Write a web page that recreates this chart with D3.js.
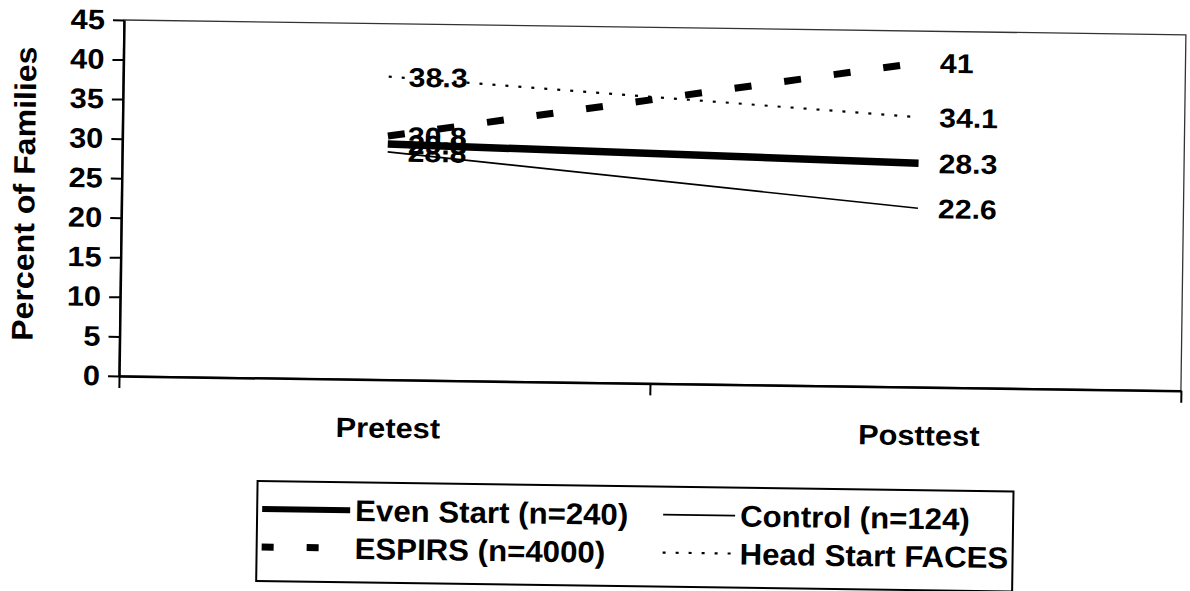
<!DOCTYPE html>
<html>
  <head>
    <meta charset="utf-8">
    <title>Percent of Families</title>
    <script src="https://d3js.org/d3.v7.min.js"></script>
    <style>
      body { margin: 0; background: #fff; }
      svg text { font-family: "Liberation Sans", Arial, sans-serif; font-weight: bold; fill: #000; }
    </style>
  </head>
  <body>
    <svg id="chart" width="1190" height="591"></svg>
    <script>
      // values
      var categories = ["Pretest", "Posttest"];
      var evenStart = [29.8, 28.3];
      var control = [28.8, 22.6];
      var espirs = [30.8, 41];
      var headStart = [38.3, 34.1];
      var yTicks = [0, 5, 10, 15, 20, 25, 30, 35, 40, 45];
      var seriesNames = ["Even Start (n=240)", "Control (n=124)", "ESPIRS (n=4000)", "Head Start FACES"];

      // line styles, in the same order as seriesNames
      var styles = [
        { width: 7.5, dash: null },
        { width: 1.6, dash: null },
        { width: 7, dash: "17,33" },
        { width: 2.2, dash: "3,10" }
      ];
      var seriesValues = [evenStart, control, espirs, headStart];

      // plot box (before the scan tilt)
      var x0 = 124, x1 = 1186, y0 = 20, y1 = 376;
      var tilt = 0.8;

      var svg = d3.select("#chart");
      var g = svg.append("g")
        .attr("transform", "rotate(" + tilt + " " + x0 + " " + y0 + ")");

      var y = d3.scaleLinear().domain([0, 45]).range([y1, y0]);
      var xBand = d3.scaleBand().domain(categories).range([x0, x1]);
      var xEdge = d3.scaleLinear().domain([0, categories.length]).range([x0, x1]);
      function xc(c) { return xBand(c) + xBand.bandwidth() / 2; }

      // widen text a bit, the scanned font is broader than Arial
      function stretch(sel, k) {
        sel.each(function() {
          var w = this.getComputedTextLength();
          d3.select(this)
            .attr("textLength", w * k)
            .attr("lengthAdjust", "spacingAndGlyphs");
        });
      }

      // plot area border
      g.append("rect")
        .attr("x", x0).attr("y", y0)
        .attr("width", x1 - x0).attr("height", y1 - y0)
        .attr("fill", "none")
        .attr("stroke", "#333")
        .attr("stroke-width", 1.3);

      // y axis
      var yAxis = g.append("g")
        .attr("transform", "translate(" + x0 + ",0)")
        .call(d3.axisLeft(y).tickValues(yTicks).tickSize(11).tickSizeOuter(0).tickPadding(8));
      yAxis.select(".domain").attr("stroke", "#000").attr("stroke-width", 2.5);
      yAxis.selectAll(".tick line").attr("stroke", "#000").attr("stroke-width", 2);
      yAxis.selectAll(".tick text").style("font-size", "28px").call(stretch, 1.1);

      // x axis, ticks between categories
      var xAxis = g.append("g")
        .attr("transform", "translate(0," + y1 + ")")
        .call(d3.axisBottom(xEdge).tickValues(d3.range(categories.length + 1)).tickSize(12).tickSizeOuter(0).tickFormat(""));
      xAxis.select(".domain").attr("stroke", "#000").attr("stroke-width", 2.5);
      xAxis.selectAll(".tick line").attr("stroke", "#000").attr("stroke-width", 2);

      g.selectAll(".cat")
        .data(categories)
        .enter().append("text")
          .attr("class", "cat")
          .attr("x", function(d) { return xc(d) + 4; })
          .attr("y", 434)
          .attr("text-anchor", "middle")
          .style("font-size", "28px")
          .text(function(d) { return d; })
          .call(stretch, 1.1);

      // y title
      g.append("text")
        .attr("transform", "translate(37,195) rotate(-90)")
        .attr("text-anchor", "middle")
        .style("font-size", "30px")
        .text("Percent of Families")
        .call(stretch, 1.07);

      // lines, drawn back to front
      var line = d3.line()
        .x(function(d, i) { return xc(categories[i]); })
        .y(function(d) { return y(d); });
      [3, 1, 2, 0].forEach(function(k) {
        g.append("path")
          .datum(seriesValues[k])
          .attr("d", line)
          .attr("fill", "none")
          .attr("stroke", "#000")
          .attr("stroke-width", styles[k].width)
          .attr("stroke-dasharray", styles[k].dash);
      });

      // data labels
      seriesValues.forEach(function(vals) {
        g.selectAll(null)
          .data(vals)
          .enter().append("text")
            .attr("x", function(d, i) { return xc(categories[i]) + 20; })
            .attr("y", function(d) { return y(d); })
            .attr("dy", "0.36em")
            .style("font-size", "27px")
            .text(function(d) { return d; })
            .call(stretch, 1.12);
      });

      // legend
      var lx = 264, ly = 479, lw = 756, lh = 100;
      var legend = g.append("g");
      legend.append("rect")
        .attr("x", lx).attr("y", ly)
        .attr("width", lw).attr("height", lh)
        .attr("fill", "#fff")
        .attr("stroke", "#000")
        .attr("stroke-width", 2);
      var cols = [lx + 5, lx + 406];
      var rows = [ly + 28, ly + 66];
      seriesNames.forEach(function(name, k) {
        var cx = cols[k % 2], cy = rows[Math.floor(k / 2)];
        var len = k % 2 === 0 ? 88 : 72;
        legend.append("line")
          .attr("x1", cx).attr("x2", cx + len)
          .attr("y1", cy).attr("y2", cy)
          .attr("stroke", "#000")
          .attr("stroke-width", k === 0 ? 6 : styles[k].width)
          .attr("stroke-dasharray", k === 2 ? "12,33" : styles[k].dash);
        legend.append("text")
          .attr("x", cx + len + 5)
          .attr("y", cy)
          .attr("dy", "0.36em")
          .style("font-size", "30px")
          .text(name)
          .call(stretch, 1.04);
      });
    </script>
  </body>
</html>
